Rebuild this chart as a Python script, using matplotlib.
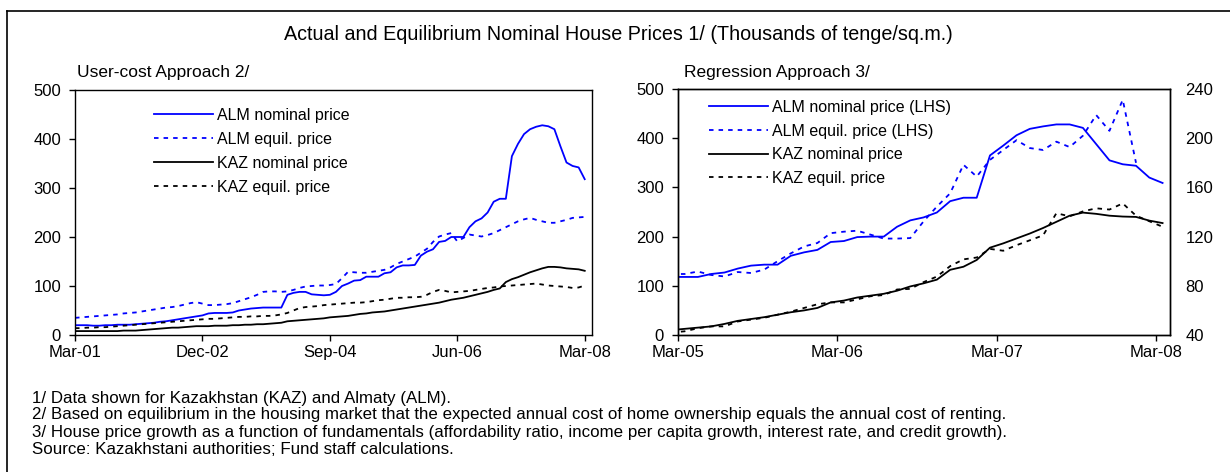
import numpy as np
import matplotlib
matplotlib.use('Agg')
import matplotlib.pyplot as plt
from matplotlib.lines import Line2D

plt.rcParams['font.family'] = ['Liberation Sans', 'DejaVu Sans']

# ---- data, user-cost approach (monthly, Mar-01 .. Mar-08)
uc_months = np.arange(85)
uc_ticks = [0, 21, 42, 63, 84]
uc_ticklabels = ['Mar-01', 'Dec-02', 'Sep-04', 'Jun-06', 'Mar-08']

uc_alm_nom = [20, 20, 20, 19, 19, 20, 20, 21, 21, 21,
              22, 23, 24, 25, 27, 28, 30, 32, 34, 36,
              38, 40, 44, 45, 45, 45, 46, 50, 52, 54,
              55, 56, 56, 56, 56, 82, 86, 88, 88, 83,
              82, 81, 82, 88, 100, 105, 111, 112, 119, 119,
              119, 126, 128, 138, 142, 142, 143, 162, 170, 175,
              190, 192, 200, 200, 200, 220, 232, 238, 250, 272,
              278, 278, 365, 390, 410, 420, 425, 428, 426, 420,
              385, 352, 345, 342, 318]
uc_alm_eq = [35, 36, 37, 38, 39, 40, 41, 42, 44, 45,
             46, 48, 50, 52, 54, 56, 57, 59, 62, 65,
             67, 64, 61, 61, 62, 63, 65, 69, 73, 77,
             82, 88, 89, 89, 88, 89, 92, 96, 99, 100,
             101, 101, 102, 104, 116, 129, 128, 127, 127, 129,
             131, 133, 138, 145, 150, 155, 160, 168, 176, 190,
             201, 205, 208, 191, 198, 205, 203, 201, 204, 208,
             214, 220, 226, 232, 236, 239, 235, 232, 229, 229,
             232, 235, 239, 240, 241]
uc_kaz_nom = [8, 8, 8, 8, 8, 8, 8, 8, 9, 9,
              9, 10, 11, 12, 13, 14, 15, 15, 16, 17,
              18, 18, 18, 19, 19, 19, 20, 20, 21, 21,
              22, 22, 23, 24, 25, 28, 29, 30, 31, 32,
              33, 34, 36, 37, 38, 39, 41, 43, 44, 46,
              47, 48, 50, 52, 54, 56, 58, 60, 62, 64,
              66, 69, 72, 74, 76, 79, 82, 85, 88, 92,
              95, 108, 114, 118, 123, 128, 132, 136, 139, 139,
              138, 136, 135, 134, 131]
uc_kaz_eq = [14, 14, 15, 15, 16, 16, 17, 18, 19, 20,
             21, 22, 23, 24, 25, 26, 27, 28, 29, 30,
             31, 32, 33, 33, 34, 35, 36, 37, 37, 38,
             38, 39, 39, 40, 42, 45, 50, 55, 57, 58,
             59, 61, 62, 63, 64, 65, 66, 66, 67, 69,
             71, 72, 74, 76, 76, 77, 77, 78, 82, 88,
             92, 90, 87, 88, 89, 90, 92, 94, 96, 97,
             99, 100, 101, 102, 103, 104, 105, 103, 101, 100,
             99, 98, 96, 97, 101]

# ---- data, regression approach (mid-month, Feb-05 .. Mar-08)
rg_months = np.arange(38) - 0.5
rg_ticks = [0, 12, 24, 36]
rg_ticklabels = ['Mar-05', 'Mar-06', 'Mar-07', 'Mar-08']

rg_alm_nom = [118, 118, 118, 124, 127, 135, 141, 143, 143, 161,
              168, 173, 189, 191, 199, 200, 200, 220, 233, 239,
              249, 272, 279, 279, 365, 385, 406, 419, 424, 428,
              428, 421, 388, 355, 347, 344, 320, 309]
rg_alm_eq = [124, 124, 129, 122, 119, 128, 126, 133, 150, 166,
             180, 187, 207, 210, 212, 204, 196, 196, 197, 231,
             261, 288, 346, 322, 356, 376, 396, 380, 376, 393,
             382, 405, 447, 415, 478, 350, np.nan, np.nan]
# KAZ on the right-hand scale
rg_kaz_nom = [44, 45, 46, 47, 49, 51.5, 53, 54.5, 56.5, 58.5,
              60, 62, 66.5, 68, 70.5, 72, 73.5, 76, 79.5, 82,
              85, 93, 95.5, 101, 111, 114.5, 118.5, 122.5, 127, 132,
              137, 139.5, 138.5, 137, 136.3, 136, 133, 131]
rg_kaz_eq = [42, 43, 45.5, 47, 47, 51, 52.5, 54, 56.5, 59,
             62, 65, 66.5, 66.5, 69, 71.5, 72.5, 77, 77.5, 83,
             87.5, 96, 101.5, 103, 110, 108.5, 113, 117, 121, 139,
             136.5, 140.5, 143, 142, 147, 137, 132.5, 128]

W, H = 1230, 472
fig = plt.figure(figsize=(W / 100, H / 100), dpi=100)

blue = '#0000FF'
dot = (0, (2.5, 2.8))
lw = 1.3
fs = 12
lfs = 11.5


def style_axis(a):
    for s in a.spines.values():
        s.set_linewidth(1.0)
        s.set_color('black')
    a.tick_params(direction='out', length=4, width=1, labelsize=fs)
    a.tick_params(axis='x', pad=3)
    a.tick_params(axis='y', pad=6)


# left panel
ax1 = fig.add_axes([75 / W, 1 - 335 / H, 517 / W, 245 / H])
ax1.plot(uc_months, uc_alm_nom, color=blue, lw=lw, label='ALM nominal price')
ax1.plot(uc_months, uc_alm_eq, color=blue, lw=lw, ls=dot, label='ALM equil. price')
ax1.plot(uc_months, uc_kaz_nom, color='black', lw=lw, label='KAZ nominal price')
ax1.plot(uc_months, uc_kaz_eq, color='black', lw=lw, ls=dot, label='KAZ equil. price')
ax1.set_xlim(0, 85.2)
ax1.set_ylim(0, 500)
ax1.set_yticks(range(0, 501, 100))
ax1.set_xticks(uc_ticks)
ax1.set_xticklabels(uc_ticklabels)
style_axis(ax1)
ax1.legend(loc='upper left', bbox_to_anchor=(0.152, 0.927), frameon=False,
           fontsize=lfs, handlelength=3.75, handletextpad=0.2, labelspacing=0.56,
           borderaxespad=0, borderpad=0)

# right panel
ax2 = fig.add_axes([678 / W, 1 - 335 / H, 492 / W, 246 / H])
ax3 = ax2.twinx()
h1, = ax2.plot(rg_months, rg_alm_nom, color=blue, lw=lw, label='ALM nominal price (LHS)')
h2, = ax2.plot(rg_months, rg_alm_eq, color=blue, lw=lw, ls=dot, label='ALM equil. price (LHS)')
h3, = ax3.plot(rg_months, rg_kaz_nom, color='black', lw=lw, label='KAZ nominal price')
h4, = ax3.plot(rg_months, rg_kaz_eq, color='black', lw=lw, ls=dot, label='KAZ equil. price')
ax2.set_xlim(0, 37.06)
ax2.set_ylim(0, 500)
ax2.set_yticks(range(0, 501, 100))
ax3.set_ylim(40, 240)
ax3.set_yticks(range(40, 241, 40))
ax2.set_xticks(rg_ticks)
ax2.set_xticklabels(rg_ticklabels)
style_axis(ax2)
style_axis(ax3)
ax3.tick_params(axis='y', length=0, pad=11)
ax3.legend(handles=[h1, h2, h3, h4], loc='upper left', bbox_to_anchor=(0.062, 0.955),
           frameon=False, fontsize=lfs, handlelength=3.75, handletextpad=0.2,
           labelspacing=0.54, borderaxespad=0, borderpad=0)

# titles
fig.text(618 / W, 1 - 35 / H,
         'Actual and Equilibrium Nominal House Prices 1/ (Thousands of tenge/sq.m.)',
         ha='center', va='center', fontsize=14.2)
fig.text(77 / W, 1 - 73 / H, 'User-cost Approach 2/', ha='left', va='center', fontsize=12.5)
fig.text(684 / W, 1 - 73 / H, 'Regression Approach 3/', ha='left', va='center', fontsize=12.5)

# footnotes
notes = ['1/ Data shown for Kazakhstan (KAZ) and Almaty (ALM).',
         '2/ Based on equilibrium in the housing market that the expected annual cost of home ownership equals the annual cost of renting.',
         '3/ House price growth as a function of fundamentals (affordability ratio, income per capita growth, interest rate, and credit growth).',
         'Source: Kazakhstani authorities; Fund staff calculations.']
for i, t in enumerate(notes):
    fig.text(32 / W, 1 - (398 + 17 * i) / H, t, ha='left', va='center', fontsize=12.2)

# frame lines (top and left only)
fig.add_artist(Line2D([7 / W, 1], [1 - 11 / H, 1 - 11 / H], color='black', lw=1.2,
                      transform=fig.transFigure))
fig.add_artist(Line2D([7 / W, 7 / W], [1 - 11 / H, 0], color='black', lw=1.2,
                      transform=fig.transFigure))

fig.savefig('out.png', dpi=100)
